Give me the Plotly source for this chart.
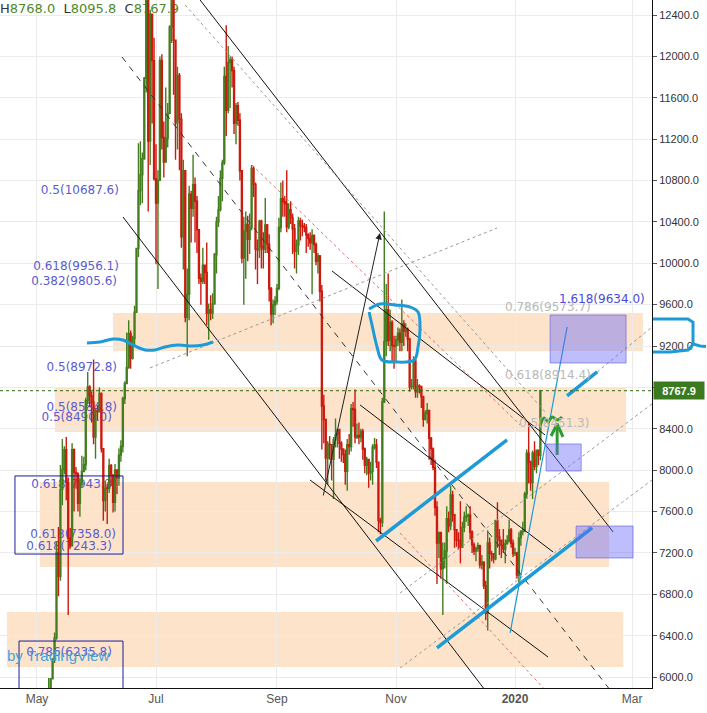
import pandas as pd
import plotly.graph_objects as go

# ---------------- daily BTC/USD candles, 2019-04-25 .. 2020-01-14 ----------------
dates = pd.date_range("2019-04-25", "2020-01-14", freq="D")
first_open = 5465

close_values = [
    # Apr 25-30
    5210, 5280, 5268, 5285, 5248, 5350,
    # May
    5402, 5505, 5768, 5831, 5795, 5746, 5829, 5982, 6174, 6378, 7204, 6972, 7814, 8008, 8198, 7879,
    7343, 7271, 8197, 7978, 7964, 7680, 7881, 7987, 8052, 8673, 8805, 8719, 8659, 8319, 8575,
    # Jun
    8564, 8742, 8208, 7707, 7824, 7822, 8043, 7954, 7688, 8000, 7927, 8145, 8230, 8693, 8838, 8994,
    9320, 9081, 9273, 9527, 10144, 10701, 10855, 11011, 11790, 13016, 11182, 12407, 11959, 10817,
    # Jul
    10583, 10801, 11961, 11216, 10978, 11208, 11450, 12285, 12574, 12156, 11358, 11815, 11392, 10256,
    10896, 9478, 9700, 10667, 10531, 10760, 10599, 10324, 9855, 9825, 9981, 9912, 9517, 9552, 9519,
    9607, 10085,
    # Aug
    10400, 10519, 10821, 10970, 11805, 11478, 11941, 11966, 11862, 11354, 11523, 11382, 10895, 10051,
    10311, 10374, 10231, 10345, 10916, 10763, 10138, 10131, 10407, 10159, 10138, 10370, 10185, 9754,
    9510, 9598, 9630,
    # Sep
    9757, 10346, 10623, 10594, 10575, 10353, 10517, 10441, 10334, 10115, 10178, 10410, 10360, 10358,
    10347, 10276, 10241, 10198, 10266, 10181, 10019, 10070, 9729, 8620, 8487, 8118, 8251, 8245, 8104,
    8293,
    # Oct
    8343, 8393, 8260, 8205, 8151, 7988, 8245, 8228, 8595, 8586, 8321, 8336, 8321, 8374, 8205, 8047,
    8103, 7973, 7988, 8222, 8243, 8078, 7514, 7493, 8660, 9244, 9551, 9256, 9427, 9205, 9199,
    # Nov
    9261, 9324, 9235, 9413, 9342, 9360, 9267, 8804, 8813, 9055, 8757, 8815, 8808, 8708, 8491, 8550,
    8577, 8309, 8206, 8027, 7642, 7296, 7397, 7047, 7146, 7218, 7531, 7463, 7761, 7569,
    # Dec
    7424, 7321, 7320, 7253, 7448, 7546, 7556, 7564, 7400, 7278, 7217, 7243, 7270, 7086, 7111, 6882,
    6616, 7296, 7193, 7191, 7144, 7511, 7355, 7322, 7275, 7238, 7290, 7317, 7422, 7293, 7193,
    # Jan 1-14
    7200, 6985, 7345, 7410, 7411, 7769, 8163, 8079, 7879, 8166, 8037, 8192, 8144, 8767.9,
]

high_values = [
    5535, 5375, 5320, 5305, 5305, 5365,
    5440, 5530, 5840, 5890, 5840, 5820, 5990, 5990, 6180, 6430, 7310, 7450, 8050, 8300, 8230, 8320,
    7930, 7440, 8260, 8210, 8030, 7980, 7930, 8140, 8130, 8700, 8950, 8820, 8760, 9070, 8590,
    8630, 8800, 8750, 8210, 7900, 7870, 8110, 8060, 7950, 8060, 8010, 8210, 8290, 8710, 8860, 9330,
    9450, 9350, 9300, 9590, 10150, 11160, 11180, 11070, 11800, 13800, 13320, 12450, 12400, 12180,
    11150, 10900, 12000, 12020, 11370, 11700, 11550, 12300, 12800, 13130, 12160, 11900, 11840, 11450,
    11000, 10900, 9950, 10750, 10700, 11050, 10830, 10650, 10330, 9900, 10150, 9980, 10200, 9610, 9690,
    9710, 10100,
    10450, 10650, 10900, 11000, 11900, 12300, 12100, 12000, 12000, 11900, 11550, 11560, 11450, 10900,
    10450, 10500, 10460, 10480, 10950, 10940, 10780, 10230, 10420, 10420, 10300, 10630, 10380, 10280,
    9770, 9650, 9680,
    9800, 10440, 10780, 10800, 10650, 10900, 10580, 10600, 10480, 10380, 10230, 10450, 10440, 10420,
    10390, 10380, 10290, 10300, 10330, 10280, 10200, 10100, 10080, 9790, 8730, 8500, 8280, 8330, 8250,
    8320,
    8500, 8400, 8400, 8280, 8200, 8200, 8300, 8350, 8640, 8660, 8780, 8450, 8460, 8400, 8400, 8220,
    8130, 8110, 8080, 8250, 8310, 8300, 8060, 7540, 8700, 10500, 9800, 9900, 9550, 9450, 9300,
    9300, 9380, 9370, 9650, 9450, 9420, 9380, 9280, 8880, 9100, 9080, 8880, 8830, 8800, 8720, 8580,
    8650, 8580, 8320, 8220, 8100, 7700, 7400, 7400, 7300, 7300, 7650, 7600, 7850, 7800,
    7570, 7430, 7400, 7700, 7500, 7600, 7650, 7580, 7650, 7420, 7300, 7260, 7300, 7280, 7180, 7120,
    6930, 7420, 7350, 7220, 7200, 7520, 7690, 7430, 7330, 7430, 7330, 7370, 7520, 7440, 7330,
    7250, 7210, 7400, 7420, 7500, 7790, 8200, 8450, 8090, 8190, 8280, 8200, 8200, 8768.0,
]

low_values = [
    5010, 5125, 5235, 5230, 5190, 5220,
    5340, 5390, 5500, 5560, 5740, 5620, 5745, 5770, 5980, 6135, 6360, 6780, 6930, 7660, 7960, 7710,
    6600, 7240, 7260, 7600, 7820, 7600, 7550, 7840, 7980, 8000, 8650, 8610, 8460, 8250, 8110,
    8480, 8560, 8170, 7510, 7600, 7480, 7780, 7850, 7590, 7600, 7770, 7850, 8080, 8170, 8640, 8830,
    8980, 8980, 9070, 9210, 9520, 10060, 10560, 10580, 11000, 11650, 10500, 10950, 11350, 10800,
    9990, 9750, 10830, 11100, 10830, 10990, 11120, 11440, 12130, 11630, 11000, 11100, 10900, 10150,
    9940, 9430, 9100, 9450, 10200, 10450, 10200, 10100, 9800, 9600, 9800, 9800, 9400, 9260, 9450,
    9460, 9600,
    9900, 10350, 10500, 10600, 10950, 11230, 11450, 11500, 11700, 11250, 11150, 11330, 10800, 10000,
    9600, 9850, 10020, 10090, 10320, 10640, 9940, 9800, 10050, 9950, 9950, 10100, 10100, 9630,
    9400, 9420, 9500,
    9600, 9740, 10300, 10450, 10450, 10300, 10330, 10380, 10090, 9950, 9900, 10080, 10220, 10260,
    10300, 10100, 10160, 10130, 9700, 10100, 9980, 9900, 9630, 8200, 8260, 7900, 7860, 8100, 7900,
    7720,
    8220, 8220, 8110, 8080, 8070, 7860, 7800, 8150, 8180, 8420, 8260, 8300, 8250, 8270, 8100, 7970,
    7950, 7830, 7900, 7860, 8200, 8020, 7400, 7380, 7450, 8650, 9100, 9200, 9150, 9050, 8980,
    9050, 9200, 9150, 9150, 9200, 9290, 9150, 8760, 8780, 8780, 8700, 8700, 8740, 8600, 8420, 8480,
    8450, 8100, 8050, 8000, 7560, 6900, 7150, 6950, 6600, 7050, 6900, 7400, 7420, 7500,
    7250, 7260, 7230, 7100, 7250, 7400, 7500, 7460, 7330, 7200, 7180, 7120, 7210, 7050, 7040, 6850,
    6550, 6450, 7050, 7120, 7100, 7130, 7250, 7180, 7150, 7200, 7100, 7280, 7300, 7250, 7160,
    7170, 6950, 6900, 7270, 7370, 7400, 7720, 7870, 7800, 7720, 8000, 7970, 8050, 8095.8,
]

assert len(close_values) == len(high_values) == len(low_values) == len(dates)
open_values = [first_open] + close_values[:-1]
last_price = close_values[-1]

# ---------------- axes ----------------
x_range = ["2019-04-12 01:00", "2020-03-11 05:00"]
y_range = [5894, 12545]
price_ticks = list(range(6000, 12401, 400))
# the 8800 label is covered by the last-price tag
price_labels = ["" if v == 8800 else f"{v:.1f}" for v in price_ticks]
month_ticks = ["2019-05-01", "2019-07-01", "2019-09-01", "2019-11-01", "2020-01-01", "2020-03-01"]
month_labels = ["May", "Jul", "Sep", "Nov", "<b>2020</b>", "Mar"]

# ---------------- drawings ----------------
zones = [  # start, end, low, high
    ("2019-06-09", "2020-03-06 14:00", 9152, 9519),
    ("2019-05-10 05:00", "2020-02-26 22:00", 8369, 8804),
    ("2019-05-02 12:00", "2020-02-18 05:00", 7064, 7886),
    ("2019-04-15 14:00", "2020-02-25 10:00", 6097, 6629),
]
target_boxes = [
    ("2020-01-19", "2020-02-26 22:00", 9036, 9500),
    ("2020-01-16 22:00", "2020-02-03 22:00", 7992, 8253),
    ("2020-02-01 07:00", "2020-03-01 12:00", 7151, 7460),
]
fib_frames = [
    ("2019-04-19 17:00", "2019-06-14 02:00", 7189, 7944),
    ("2019-04-21 19:00", "2019-06-14 02:00", 5500, 6348),
]

fib_left_text = ["0.5(10687.6)", "0.618(9956.1)", "0.382(9805.6)", "0.5(8972.8)", "0.5(8584.8)",
                 "0.5(8490.0)", "0.618(7943.3)", "0.618(7358.0)", "0.618(7243.3)", "0.786(6235.8)"]
fib_left_x = ["2019-06-12", "2019-06-12", "2019-06-11", "2019-06-11", "2019-06-11",
              "2019-06-08 10:00", "2019-06-11", "2019-06-10 12:00", "2019-06-08 10:00", "2019-06-08 10:00"]
fib_left_y = [10699, 9964, 9819, 8988, 8601, 8504, 7857, 7373, 7257, 6232]

fib_right = [  # text, x, y, colour
    ("0.786(9573.7)", "2019-12-25 22:00", 9577, "#b9b9b9"),
    ("0.618(8914.4)", "2019-12-25 22:00", 8920, "#b9b9b9"),
    ("0.5(8451.3)", "2020-01-02", 8456, "#b9b9b9"),
    ("1.618(9634.0)", "2020-01-22 14:00", 9655, "#4a4ad8"),
]

black_lines = [
    [("2019-07-23 14:00", 12545), ("2020-02-20 07:00", 7402)],
    [("2019-06-14 02:00", 10447), ("2019-12-16 14:00", 5875)],
    [("2019-09-29 05:00", 9925), ("2020-01-16 10:00", 8340)],
    [("2019-10-13 14:00", 8630), ("2020-01-20 12:00", 7209)],
    [("2019-09-17 22:00", 7905), ("2020-01-17 22:00", 6194)],
]
dashed_line = [("2019-06-13 14:00", 11994), ("2020-02-18 17:00", 5875)]
gray_dotted = [
    [("2019-06-27 22:00", 8988), ("2019-12-22 19:00", 10341)],
    [("2019-07-15 22:00", 12497), ("2020-01-16 10:00", 8562)],
    [("2019-11-03 02:00", 6087), ("2020-03-11 05:00", 7905)],
    [("2019-11-03 02:00", 6812), ("2020-03-11 05:00", 8640)],
    [("2020-02-12 02:00", 8949), ("2020-03-11 05:00", 9384)],
]
red_dotted = [
    [("2019-08-19 05:00", 10950), ("2020-01-03 14:00", 8437)],
    [("2019-11-03 02:00", 7392), ("2020-01-16 10:00", 5875)],
]
arrow_from = ("2019-09-24 14:00", 7741)
arrow_to = ("2019-10-23 19:00", 10293)

blue_wave = [("2019-05-26 14:00", 9229), ("2019-06-02 07:00", 9239), ("2019-06-09", 9268),
             ("2019-06-14 02:00", 9258), ("2019-06-19 05:00", 9210), ("2019-06-25 10:00", 9162),
             ("2019-06-30 12:00", 9162), ("2019-07-05 14:00", 9191), ("2019-07-12 07:00", 9210),
             ("2019-07-19 12:00", 9200), ("2019-07-25 02:00", 9210), ("2019-07-30 05:00", 9239)]
blue_loop = [("2019-10-18 05:00", 9558), ("2019-10-23 19:00", 9606), ("2019-10-31 12:00", 9597),
             ("2019-11-08 05:00", 9577), ("2019-11-12 07:00", 9529), ("2019-11-13 07:00", 9355),
             ("2019-11-12 07:00", 9191), ("2019-11-10 07:00", 9065), ("2019-10-31 12:00", 9046),
             ("2019-10-24 19:00", 9065), ("2019-10-22 07:00", 9191), ("2019-10-19 17:00", 9403),
             ("2019-10-18 05:00", 9529)]
blue_thick = [
    [("2019-10-21 19:00", 7315), ("2019-12-27 22:00", 8292)],
    [("2019-11-22", 6281), ("2020-02-09 12:00", 7441)],
    [("2020-01-27 17:00", 8717), ("2020-02-12 02:00", 8949)],
]
blue_thin = [("2019-12-29 12:00", 6426), ("2020-01-27 17:00", 9384)]
green_squiggle = [("2020-01-13 19:00", 8427), ("2020-01-15 22:00", 8504), ("2020-01-17 22:00", 8466),
                  ("2020-01-20", 8514), ("2020-01-22 14:00", 8485), ("2020-01-25 02:00", 8514)]
green_arrow = [("2020-01-22 14:00", 8147), ("2020-01-22 14:00", 8437)]
green_head = [("2020-01-19 12:00", 8330), ("2020-01-22 14:00", 8447), ("2020-01-25 14:00", 8321)]

# axis-side bracket (paper x, price y)
bracket_top = [(653 / 652, 9461), (688 / 652, 9461), (693 / 652, 9430), (693 / 652, 9220),
               (700 / 652, 9200), (706 / 652, 9195)]
bracket_bottom = [(693 / 652, 9215), (688 / 652, 9162), (670 / 652, 9142), (653 / 652, 9142)]

UP = "#437d1f"
DOWN = "#cc1a0e"
BLUE = "#1e9ad6"
FIB = "#5b5bd2"

fig = go.Figure()

# fib labels sit underneath the candles
fig.add_trace(go.Scatter(
    x=fib_left_x, y=fib_left_y, text=fib_left_text, mode="text",
    textposition="middle left", textfont=dict(family="DejaVu Sans", size=12, color=FIB),
    hoverinfo="skip", yaxis="y"))
fig.add_trace(go.Scatter(
    x=[x_range[0]], y=[12448], mode="text", textposition="middle right",
    text=['H<span style="color:#4f8a2c">8768.0</span>  L<span style="color:#4f8a2c">8095.8</span>'
          '  C<span style="color:#4f8a2c">8767.9</span>'],
    textfont=dict(family="DejaVu Sans", size=13, color="#333333"), hoverinfo="skip", yaxis="y"))

fig.add_trace(go.Candlestick(
    x=dates, open=open_values, high=high_values, low=low_values, close=close_values,
    increasing=dict(line=dict(color=UP, width=1.4), fillcolor=UP),
    decreasing=dict(line=dict(color=DOWN, width=1.4), fillcolor=DOWN),
    whiskerwidth=0, yaxis="y2", hoverinfo="skip"))


def add_path(points, color, width, dash="solid", shape="linear"):
    fig.add_trace(go.Scatter(
        x=[p[0] for p in points], y=[p[1] for p in points], mode="lines",
        line=dict(color=color, width=width, dash=dash, shape=shape),
        hoverinfo="skip", yaxis="y3"))


for seg in black_lines:
    add_path(seg, "#111111", 1)
add_path(dashed_line, "#333333", 1, dash="6px,6px")
for seg in gray_dotted:
    add_path(seg, "#9a9a9a", 1, dash="dot")
for seg in red_dotted:
    add_path(seg, "#e07070", 1, dash="dot")
add_path(blue_wave, BLUE, 3, shape="spline")
add_path(blue_loop, BLUE, 3, shape="spline")
for seg in blue_thick:
    add_path(seg, BLUE, 3.5)
add_path(blue_thin, BLUE, 1.2)
add_path(green_squiggle, "#2f9a2f", 3, shape="spline")
add_path(green_arrow, "#2f9a2f", 3)
add_path(green_head, "#2f9a2f", 3)

shapes = []
for x0, x1, y0, y1 in zones:
    shapes.append(dict(type="rect", xref="x", yref="y", x0=x0, x1=x1, y0=y0, y1=y1,
                       fillcolor="rgba(250,200,150,0.5)", line=dict(width=0), layer="below"))
for x0, x1, y0, y1 in target_boxes:
    shapes.append(dict(type="rect", xref="x", yref="y", x0=x0, x1=x1, y0=y0, y1=y1,
                       fillcolor="rgba(100,100,250,0.42)", line=dict(color="rgba(90,90,230,0.6)", width=1),
                       layer="above"))
for x0, x1, y0, y1 in fib_frames:
    shapes.append(dict(type="rect", xref="x", yref="y", x0=x0, x1=x1, y0=y0, y1=y1,
                       fillcolor="rgba(0,0,0,0)", line=dict(color="#1c1c96", width=1), layer="above"))
shapes.append(dict(type="line", xref="paper", yref="y", x0=0, x1=1, y0=last_price, y1=last_price,
                   line=dict(color="#2e6b14", width=1, dash="dot"), layer="above"))


def paper_path(points):
    return "M " + " L ".join(f"{x:.4f},{y}" for x, y in points)


shapes.append(dict(type="path", xref="paper", yref="y", path=paper_path(bracket_top),
                   line=dict(color=BLUE, width=3), layer="above"))
shapes.append(dict(type="path", xref="paper", yref="y", path=paper_path(bracket_bottom),
                   line=dict(color=BLUE, width=3), layer="above"))

annotations = []
for text, x, y, color in fib_right:
    annotations.append(dict(x=x, y=y, xref="x", yref="y", text=text, showarrow=False,
                            xanchor="left", yanchor="middle",
                            font=dict(family="DejaVu Sans", size=12, color=color)))
annotations.append(dict(x=arrow_to[0], y=arrow_to[1], ax=arrow_from[0], ay=arrow_from[1],
                        xref="x", yref="y", axref="x", ayref="y", text="", showarrow=True,
                        arrowhead=2, arrowsize=1.3, arrowwidth=1, arrowcolor="#222222"))
annotations.append(dict(x=1.002, y=last_price, xref="paper", yref="y", text="<b>8767.9</b>",
                        showarrow=False, xanchor="left", yanchor="middle", bgcolor="#3c7a1f",
                        width=48, height=15, font=dict(family="Liberation Sans", size=11, color="white")))
annotations.append(dict(x=5 / 652, y=6213, xref="paper", yref="y", text="by TradingView",
                        showarrow=False, xanchor="left", yanchor="middle",
                        font=dict(family="Liberation Sans", size=15, color="#45a3dc")))

fig.update_layout(
    width=707, height=713,
    margin=dict(l=0, r=55, t=0, b=25),
    paper_bgcolor="white", plot_bgcolor="white",
    showlegend=False,
    shapes=shapes, annotations=annotations,
    xaxis=dict(type="date", range=x_range, tickvals=month_ticks, ticktext=month_labels,
               showgrid=True, gridcolor="#ebebeb", showline=True, linecolor="#111111",
               ticks="", tickfont=dict(family="Liberation Sans", size=12, color="#555555"),
               rangeslider=dict(visible=False), zeroline=False),
    yaxis=dict(range=y_range, side="right", tickvals=price_ticks,
               ticktext=price_labels, showgrid=True, gridcolor="#ebebeb",
               showline=True, linecolor="#111111", ticks="outside", ticklen=4, tickcolor="#555555",
               tickfont=dict(family="Liberation Sans", size=11, color="#333333"), zeroline=False),
    yaxis2=dict(range=y_range, overlaying="y", visible=False),
    yaxis3=dict(range=y_range, overlaying="y", visible=False),
)

fig.write_html("out.html")
